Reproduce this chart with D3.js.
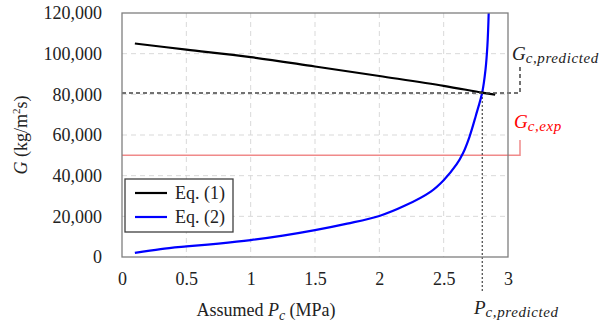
<!DOCTYPE html>
<html>
<head>
<meta charset="utf-8">
<script src="https://cdn.jsdelivr.net/npm/d3@7"></script>
<style>
  body { margin: 0; background: #fff; }
  svg text { font-family: "Liberation Serif", "Times New Roman", serif; }
</style>
</head>
<body>
<div id="chart"></div>
<script>
// values
const xTicks = [0, 0.5, 1, 1.5, 2, 2.5, 3]
const yTicks = [0, 20000, 40000, 60000, 80000, 100000, 120000]

const eq1P = [0.1, 0.5, 1.0, 1.5, 2.0, 2.5, 2.8, 2.9]
const eq1G = [105000, 102000, 98300, 93700, 89000, 84200, 80800, 79900]

const eq2P = [0.1, 0.3, 0.5, 0.75, 1.0, 1.25, 1.5, 1.75, 2.0, 2.2, 2.4, 2.5, 2.6, 2.65, 2.7, 2.75, 2.8, 2.825, 2.84, 2.85]
const eq2G = [2000, 3900, 5200, 6600, 8300, 10500, 13200, 16400, 20200, 25300, 32200, 37800, 45500, 51000, 59000, 69500, 81000, 92000, 104000, 120000]

const gExp = 50000
const pPred = 2.8
const gPred = 80600

const W = 611, H = 330
const pl = 122, pr = 508, pt = 13, pb = 257

const svg = d3.select('#chart').append('svg').attr('width', W).attr('height', H)

const x = d3.scaleLinear().domain([0, 3]).range([pl, pr])
const y = d3.scaleLinear().domain([0, 120000]).range([pb, pt])

svg.append('defs').append('clipPath').attr('id', 'clip')
    .append('rect').attr('x', pl).attr('y', pt).attr('width', pr - pl).attr('height', pb - pt)

// grid
svg.append('g')
    .selectAll('line')
    .data(xTicks.slice(1, -1))
    .join('line')
    .attr('x1', (d) => x(d)).attr('x2', (d) => x(d))
    .attr('y1', pt).attr('y2', pb)
    .attr('stroke', '#d9d9d9').attr('stroke-dasharray', '5,4')
svg.append('g')
    .selectAll('line')
    .data(yTicks.slice(1, -1))
    .join('line')
    .attr('x1', pl).attr('x2', pr)
    .attr('y1', (d) => y(d)).attr('y2', (d) => y(d))
    .attr('stroke', '#d9d9d9').attr('stroke-dasharray', '5,4')

// tick labels via d3 axes, no domain/ticks
const xAxis = svg.append('g')
    .attr('transform', `translate(0,${pb})`)
    .call(d3.axisBottom(x).tickValues(xTicks).tickSize(0).tickPadding(15).tickFormat(d3.format('')))
xAxis.select('.domain').remove()
xAxis.selectAll('text').attr('font-size', 18).attr('fill', '#222').attr('font-family', '"Liberation Serif", serif')

const yAxis = svg.append('g')
    .attr('transform', `translate(${pl},0)`)
    .call(d3.axisLeft(y).tickValues(yTicks).tickSize(0).tickPadding(20).tickFormat(d3.format(',')))
yAxis.select('.domain').remove()
yAxis.selectAll('text').attr('font-size', 18).attr('fill', '#222').attr('font-family', '"Liberation Serif", serif')

// red experimental line + connector
svg.append('path')
    .attr('d', `M${pl},${y(gExp)}H520V140`)
    .attr('fill', 'none').attr('stroke', '#f08a8a').attr('stroke-width', 1.5)

// dotted vertical at predicted Pc
svg.append('line')
    .attr('x1', x(pPred)).attr('x2', x(pPred))
    .attr('y1', y(gPred)).attr('y2', 292)
    .attr('stroke', '#444').attr('stroke-width', 1.2).attr('stroke-dasharray', '2,2')

const line = d3.line().x((d) => x(d[0])).y((d) => y(d[1])).curve(d3.curveCatmullRom.alpha(0.5))

const plot = svg.append('g').attr('clip-path', 'url(#clip)')
plot.append('path')
    .datum(eq2P.map((p, i) => [p, eq2G[i]]))
    .attr('d', line)
    .attr('fill', 'none').attr('stroke', '#0000ff').attr('stroke-width', 2.2)
plot.append('path')
    .datum(eq1P.map((p, i) => [p, eq1G[i]]))
    .attr('d', line)
    .attr('fill', 'none').attr('stroke', '#000').attr('stroke-width', 2.2)

// black dashed predicted G + connector
svg.append('path')
    .attr('d', `M${pl},${y(gPred)}H520V66`)
    .attr('fill', 'none').attr('stroke', '#444').attr('stroke-width', 1.5).attr('stroke-dasharray', '4,3')

// frame
svg.append('rect')
    .attr('x', pl).attr('y', pt).attr('width', pr - pl).attr('height', pb - pt)
    .attr('fill', 'none').attr('stroke', '#7f7f7f').attr('stroke-width', 1.3)

// legend
const lg = svg.append('g')
lg.append('rect').attr('x', 125).attr('y', 179).attr('width', 108).attr('height', 53)
    .attr('fill', '#fff').attr('stroke', '#404040').attr('stroke-width', 1.3)
const legendItems = [['Eq. (1)', '#000'], ['Eq. (2)', '#0000ff']]
legendItems.forEach(([name, c], i) => {
    const yy = 193 + i * 24
    lg.append('line').attr('x1', 135).attr('x2', 167).attr('y1', yy).attr('y2', yy)
        .attr('stroke', c).attr('stroke-width', 2.2)
    lg.append('text').attr('x', 175).attr('y', yy + 6).attr('font-size', 18).attr('fill', '#222').text(name)
})

// axis titles
svg.append('text')
    .attr('transform', `translate(27,${(pt + pb) / 2}) rotate(-90)`)
    .attr('text-anchor', 'middle').attr('font-size', 18).attr('fill', '#222')
    .call((t) => {
        t.append('tspan').attr('font-style', 'italic').text('G')
        t.append('tspan').text(' (kg/m')
        t.append('tspan').attr('font-size', 11).attr('dy', -7).text('2')
        t.append('tspan').attr('dy', 7).text('s)')
    })

svg.append('text')
    .attr('x', 266).attr('y', 316).attr('text-anchor', 'middle').attr('font-size', 18).attr('fill', '#222')
    .call((t) => {
        t.append('tspan').text('Assumed ')
        t.append('tspan').attr('font-style', 'italic').text('P')
        t.append('tspan').attr('font-style', 'italic').attr('font-size', 14).attr('dy', 4).text('c')
        t.append('tspan').attr('dy', -4).text(' (MPa)')
    })

function mathLabel(xx, yy, sub, color) {
    const t = svg.append('text').attr('x', xx).attr('y', yy).attr('fill', color)
        .attr('font-family', '"DejaVu Serif", serif').attr('font-style', 'italic')
    t.append('tspan').attr('font-size', 19).text(sub[0])
    t.append('tspan').attr('font-size', 15).attr('dy', 3).attr('letter-spacing', 0.6).text(sub[1])
}
mathLabel(512, 60, ['G', 'c,predicted'], '#222')
mathLabel(514, 128, ['G', 'c,exp'], '#ff0000')
mathLabel(474, 314, ['P', 'c,predicted'], '#222')
</script>
</body>
</html>
